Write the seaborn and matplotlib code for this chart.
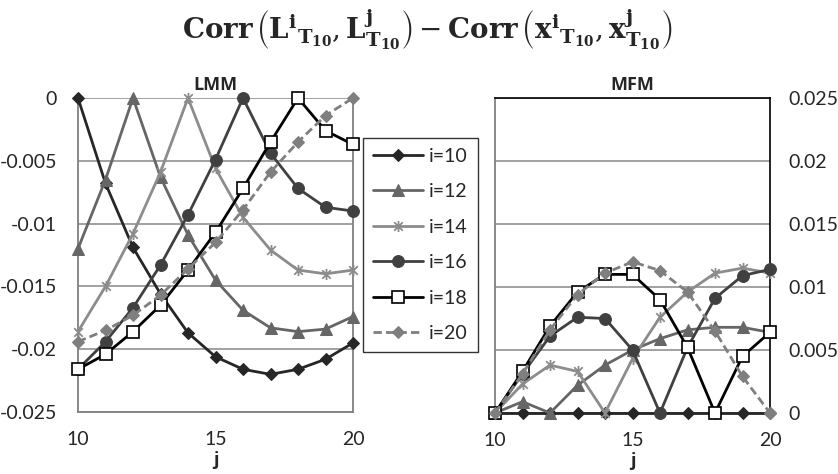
import numpy as np
import pandas as pd
import matplotlib
matplotlib.use("Agg")
import matplotlib.pyplot as plt
from matplotlib.path import Path
import seaborn as sns

# -----------------------------
# DATA
# -----------------------------
j_vals = [10, 11, 12, 13, 14, 15, 16, 17, 18, 19, 20]
labels = ["i=10", "i=12", "i=14", "i=16", "i=18", "i=20"]

# LMM panel
lmm_i10 = [0, -0.0068, -0.0119, -0.0156, -0.0187, -0.0206, -0.0216, -0.0220, -0.0216, -0.0208, -0.0195]
lmm_i12 = [-0.0120, -0.0065, 0, -0.0063, -0.0109, -0.0145, -0.0169, -0.0183, -0.0186, -0.0184, -0.0174]
lmm_i14 = [-0.0186, -0.0150, -0.0108, -0.0059, 0, -0.0056, -0.0095, -0.0121, -0.0137, -0.0140, -0.0137]
lmm_i16 = [-0.0216, -0.0194, -0.0167, -0.0133, -0.0093, -0.0049, 0, -0.0044, -0.0072, -0.0087, -0.0090]
lmm_i18 = [-0.0216, -0.0204, -0.0186, -0.0165, -0.0137, -0.0107, -0.0072, -0.0035, 0, -0.0026, -0.0037]
lmm_i20 = [-0.0194, -0.0185, -0.0173, -0.0157, -0.0136, -0.0115, -0.0089, -0.0059, -0.0035, -0.0014, 0]

# MFM panel
mfm_i10 = [0, 0, 0, 0, 0, 0, 0, 0, 0, 0, 0]
mfm_i12 = [0, 0.0009, 0, 0.0022, 0.0038, 0.0050, 0.0059, 0.0066, 0.0068, 0.0068, 0.0064]
mfm_i14 = [0, 0.0023, 0.0038, 0.0033, 0, 0.0043, 0.0076, 0.0096, 0.0111, 0.0115, 0.0111]
mfm_i16 = [0, 0.0031, 0.0061, 0.0076, 0.0075, 0.0050, 0, 0.0052, 0.0091, 0.0109, 0.0114]
mfm_i18 = [0, 0.0033, 0.0069, 0.0096, 0.0110, 0.0110, 0.0090, 0.0052, 0, 0.0045, 0.0064]
mfm_i20 = [0, 0.0031, 0.0066, 0.0094, 0.0111, 0.0120, 0.0113, 0.0096, 0.0065, 0.0029, 0]

lmm_series = [lmm_i10, lmm_i12, lmm_i14, lmm_i16, lmm_i18, lmm_i20]
mfm_series = [mfm_i10, mfm_i12, mfm_i14, mfm_i16, mfm_i18, mfm_i20]

lmm_df = pd.DataFrame({"j": j_vals * 6,
                       "i": np.repeat(labels, len(j_vals)),
                       "val": np.concatenate(lmm_series)})
mfm_df = pd.DataFrame({"j": j_vals * 6,
                       "i": np.repeat(labels, len(j_vals)),
                       "val": np.concatenate(mfm_series)})

# -----------------------------
# STYLE
# -----------------------------
sns.set_style("white")
plt.rcParams["font.family"] = ["Lato", "DejaVu Sans"]
plt.rcParams["mathtext.fontset"] = "dejavuserif"

asterisk = Path([(-1, -1), (1, 1), (-1, 1), (1, -1), (0, -1.3), (0, 1.3)],
                [Path.MOVETO, Path.LINETO, Path.MOVETO, Path.LINETO, Path.MOVETO, Path.LINETO])

styles = {
    "i=10": dict(color="#262626", marker="D", markersize=6, linestyle="-", mfc="#262626", mec="#262626"),
    "i=12": dict(color="#666666", marker="^", markersize=8.5, linestyle="-", mfc="#666666", mec="#666666"),
    "i=14": dict(color="#8c8c8c", marker=asterisk, markersize=8, linestyle="-", mfc="none", mec="#8c8c8c", mew=1.3),
    "i=16": dict(color="#404040", marker="o", markersize=8.5, linestyle="-", mfc="#404040", mec="#404040"),
    "i=18": dict(color="#000000", marker="s", markersize=8, linestyle="-", mfc="white", mec="#000000", mew=1.2),
    "i=20": dict(color="#7f7f7f", marker="D", markersize=6, linestyle=(0, (3, 1.5)), mfc="#7f7f7f", mec="#7f7f7f"),
}

bold_font = dict(family=["Open Sans", "DejaVu Sans"], fontweight="bold", fontsize=13)

fig = plt.figure(figsize=(8.38, 4.74), dpi=100)
ax1 = fig.add_axes([78 / 838, 1 - 412 / 474, 275 / 838, 314 / 474])
ax2 = fig.add_axes([495 / 838, 1 - 413 / 474, 275 / 838, 315 / 474])

tick_fs = 14

for ax, df in [(ax1, lmm_df), (ax2, mfm_df)]:
    for lab in labels:
        sub = df[df["i"] == lab]
        sns.lineplot(x="j", y="val", data=sub, ax=ax, linewidth=2, clip_on=False,
                     label=lab, zorder=3, **styles[lab])
    ax.set_xlim(10, 20)
    ax.set_xticks([10, 15, 20])
    ax.grid(axis="y", color="#9a9a9a", linewidth=1.3)
    ax.grid(axis="x", visible=False)
    ax.set_xlabel("j", labelpad=2, **bold_font)
    ax.set_ylabel("")
    ax.tick_params(length=0, labelsize=tick_fs)
    ax.tick_params(axis="x", pad=14)
    ax.get_legend().remove()

# LMM axis
ax1.set_ylim(-0.025, 0)
ax1.set_yticks([0, -0.005, -0.01, -0.015, -0.02, -0.025])
ax1.set_yticklabels(["0", "-0.005", "-0.01", "-0.015", "-0.02", "-0.025"])
ax1.tick_params(axis="y", pad=15)
for s in ["left", "bottom", "right"]:
    ax1.spines[s].set_color("#808080")
    ax1.spines[s].set_linewidth(1.3)
ax1.spines["top"].set_visible(False)
ax1.set_title("LMM", pad=6, **bold_font)

# MFM axis (values on the right)
ax2.set_ylim(0, 0.025)
ax2.set_yticks([0, 0.005, 0.01, 0.015, 0.02, 0.025])
ax2.set_yticklabels(["0", "0.005", "0.01", "0.015", "0.02", "0.025"])
ax2.yaxis.tick_right()
ax2.tick_params(axis="y", pad=13)
for s in ["left", "bottom"]:
    ax2.spines[s].set_color("#808080")
    ax2.spines[s].set_linewidth(1.3)
for s in ["top", "right"]:
    ax2.spines[s].set_color("#000000")
    ax2.spines[s].set_linewidth(1.2)
ax2.set_title("MFM", pad=6, **bold_font)

# Legend between the panels
handles, _ = ax1.get_legend_handles_labels()
leg = fig.legend(handles, labels, loc="upper left",
                 bbox_to_anchor=(363 / 838, 1 - 138 / 474),
                 fontsize=tick_fs, frameon=True, fancybox=False,
                 handlelength=2.6, handletextpad=0.3, labelspacing=0.95,
                 borderpad=0.5, borderaxespad=0)
leg.get_frame().set_edgecolor("black")
leg.get_frame().set_linewidth(1.0)

title = (r"$\mathbf{Corr}\,\left(\mathbf{L^i}_{\mathbf{T_{10}}},\mathbf{L}^{\mathbf{j}}_{\mathbf{T_{10}}}\right)"
         r" - \mathbf{Corr}\,\left(\mathbf{x^i}_{\mathbf{T_{10}}},\mathbf{x}^{\mathbf{j}}_{\mathbf{T_{10}}}\right)$")
fig.text(0.51, 0.937, title, ha="center", va="center", fontsize=20)

fig.savefig("out.png", dpi=100)
